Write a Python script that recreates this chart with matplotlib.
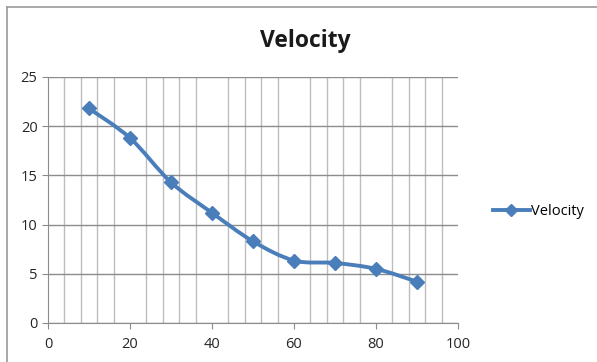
import matplotlib.pyplot as plt
import numpy as np
from matplotlib.path import Path
from matplotlib.patches import PathPatch
from matplotlib.lines import Line2D

# Data
distance = [10, 20, 30, 40, 50, 60, 70, 80, 90]
velocity = [21.8, 18.8, 14.3, 11.2, 8.3, 6.35, 6.1, 5.5, 4.2]

blue = '#4A7EBB'
plt.rcParams['font.family'] = ['Open Sans', 'DejaVu Sans']

fig = plt.figure(figsize=(5.97, 3.62), dpi=100)
ax = fig.add_axes([48 / 597, 39 / 362, 410 / 597, 246 / 362])

# smooth line like Excel (Catmull-Rom as cubic Bezier segments)
pts = np.column_stack([distance, velocity])
verts = [pts[0]]
codes = [Path.MOVETO]
for i in range(len(pts) - 1):
    p0 = pts[i - 1] if i > 0 else pts[i]
    p1 = pts[i]
    p2 = pts[i + 1]
    p3 = pts[i + 2] if i + 2 < len(pts) else pts[i + 1]
    c1 = p1 + (p2 - p0) / 6
    c2 = p2 - (p3 - p1) / 6
    verts += [c1, c2, p2]
    codes += [Path.CURVE4] * 3
ax.add_patch(PathPatch(Path(verts, codes), facecolor='none', edgecolor=blue,
                       linewidth=2.8, zorder=3, capstyle='round'))
ax.plot(distance, velocity, linestyle='none', marker='D', markersize=7,
        color=blue, zorder=4)

ax.set_xlim(0, 100)
ax.set_ylim(0, 25)
ax.set_xticks(range(0, 101, 20))
ax.set_yticks(range(0, 26, 5))
ax.set_xticks(range(0, 101, 4), minor=True)
ax.grid(True, which='major', axis='y', color='#8c8c8c', linewidth=1.0)
ax.grid(True, which='minor', axis='x', color='#bdbdbd', linewidth=1.0)
ax.tick_params(which='minor', length=0)
ax.tick_params(which='major', length=4, color='#8c8c8c', labelsize=10.5,
               labelcolor='#262626', direction='out')
ax.tick_params(axis='x', pad=6)
for side in ['top', 'right']:
    ax.spines[side].set_visible(False)
for side in ['left', 'bottom']:
    ax.spines[side].set_color('#8c8c8c')
ax.set_axisbelow(True)

fig.text(305 / 597, 1 - 41 / 362, 'Velocity', ha='center', va='center',
         fontsize=16.5, fontweight='bold', color='#1a1a1a')

handle = Line2D([], [], color=blue, linewidth=2.8, marker='D', markersize=6)
fig.legend([handle], ['Velocity'], loc='center left',
           bbox_to_anchor=(480 / 597, 1 - 212 / 362), frameon=False,
           fontsize=10.5, handlelength=2.5, handletextpad=0.1)

# chart area border
fig.add_artist(Line2D([7 / 597, 1], [1 - 7 / 362] * 2, color='#9a9a9a', linewidth=1.2))
fig.add_artist(Line2D([7 / 597] * 2, [0, 1 - 7 / 362], color='#9a9a9a', linewidth=1.2))

fig.savefig('out.png', dpi=100)
